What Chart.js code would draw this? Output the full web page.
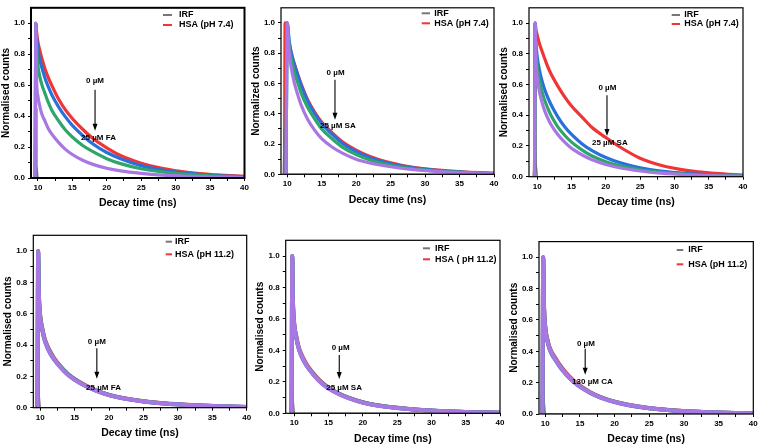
<!DOCTYPE html>
<html>
<head>
<meta charset="utf-8">
<script src="https://cdn.jsdelivr.net/npm/chart.js@4.4.0/dist/chart.umd.min.js"></script>
<style>
  html, body { margin: 0; padding: 0; background: #fff; }
  body { width: 760px; height: 447px; position: relative; overflow: hidden; }
  canvas { position: absolute; }
</style>
</head>
<body>
<canvas id="c1"></canvas>
<canvas id="c2"></canvas>
<canvas id="c3"></canvas>
<canvas id="c4"></canvas>
<canvas id="c5"></canvas>
<canvas id="c6"></canvas>
<script>
// decay time (ns) shared by the decay traces
const decayTime = [9.5, 9.6, 9.7, 9.8, 10, 10.3, 10.6, 11, 11.5, 12, 13, 14, 15, 16.5, 18, 20, 22, 25, 28, 32, 36, 40];

// instrument response
const irfTime = [9.45, 9.55, 9.62, 9.68, 9.75, 9.85, 10.0, 40];
const irfCounts = [0, 0.3, 0.8, 1.0, 0.45, 0.08, 0, 0];

// HSA pH 7.4 + FA
const p1Red    = [0, 0, 1.0, 0.95, 0.88, 0.82, 0.77, 0.71, 0.65, 0.60, 0.51, 0.44, 0.385, 0.315, 0.255, 0.195, 0.145, 0.095, 0.062, 0.035, 0.02, 0.01];
const p1Blue   = [0, 0, 1.0, 0.92, 0.83, 0.76, 0.71, 0.65, 0.59, 0.54, 0.46, 0.395, 0.34, 0.275, 0.22, 0.165, 0.125, 0.08, 0.052, 0.03, 0.016, 0.008];
const p1Green  = [0, 0, 1.0, 0.85, 0.73, 0.65, 0.60, 0.55, 0.49, 0.44, 0.37, 0.31, 0.265, 0.21, 0.17, 0.125, 0.093, 0.06, 0.04, 0.023, 0.012, 0.006];
const p1Purple = [0, 0, 1.0, 0.65, 0.53, 0.46, 0.41, 0.37, 0.32, 0.285, 0.23, 0.185, 0.152, 0.115, 0.088, 0.063, 0.046, 0.03, 0.019, 0.011, 0.006, 0.003];

// HSA pH 7.4 + SA
const p2Red    = [0, 0, 1.0, 0.95, 0.90, 0.86, 0.80, 0.735, 0.665, 0.60, 0.49, 0.41, 0.345, 0.275, 0.215, 0.16, 0.118, 0.076, 0.048, 0.027, 0.014, 0.007];
const p2Blue   = [0, 0, 0, 0, 1.0, 0.88, 0.80, 0.73, 0.66, 0.59, 0.48, 0.40, 0.335, 0.265, 0.205, 0.15, 0.11, 0.07, 0.045, 0.025, 0.013, 0.006];
const p2Green  = [0, 0, 0, 0, 1.0, 0.84, 0.76, 0.68, 0.61, 0.54, 0.44, 0.365, 0.30, 0.235, 0.18, 0.13, 0.095, 0.06, 0.038, 0.021, 0.011, 0.005];
const p2Purple = [0, 0, 0, 0, 1.0, 0.80, 0.70, 0.61, 0.53, 0.46, 0.36, 0.29, 0.235, 0.18, 0.14, 0.10, 0.075, 0.05, 0.032, 0.018, 0.009, 0.004];

// HSA pH 7.4 + SA (second set)
const p3Red    = [0, 0, 1.0, 0.96, 0.92, 0.87, 0.83, 0.78, 0.72, 0.67, 0.59, 0.52, 0.46, 0.39, 0.32, 0.255, 0.195, 0.12, 0.075, 0.04, 0.022, 0.01];
const p3Blue   = [0, 0, 1.0, 0.88, 0.78, 0.70, 0.64, 0.58, 0.52, 0.47, 0.39, 0.325, 0.275, 0.215, 0.17, 0.125, 0.092, 0.058, 0.036, 0.02, 0.011, 0.005];
const p3Green  = [0, 0, 1.0, 0.84, 0.72, 0.63, 0.57, 0.51, 0.45, 0.40, 0.325, 0.27, 0.225, 0.175, 0.135, 0.098, 0.072, 0.045, 0.028, 0.015, 0.008, 0.004];
const p3Purple = [0, 0, 1.0, 0.78, 0.65, 0.56, 0.50, 0.44, 0.385, 0.34, 0.275, 0.225, 0.185, 0.143, 0.11, 0.08, 0.058, 0.037, 0.023, 0.012, 0.006, 0.003];

// HSA pH 11.2 + FA
const p4Red    = [0, 0, 1.0, 0.74, 0.59, 0.51, 0.45, 0.40, 0.355, 0.318, 0.262, 0.216, 0.183, 0.144, 0.113, 0.082, 0.062, 0.041, 0.028, 0.017, 0.01, 0.005];
const p4Blue   = [0, 0, 1.0, 0.73, 0.575, 0.495, 0.437, 0.388, 0.343, 0.308, 0.256, 0.212, 0.18, 0.141, 0.111, 0.081, 0.06, 0.04, 0.027, 0.016, 0.009, 0.005];
const p4Green  = [0, 0, 1.0, 0.74, 0.585, 0.505, 0.445, 0.395, 0.35, 0.313, 0.258, 0.214, 0.181, 0.142, 0.112, 0.081, 0.061, 0.041, 0.027, 0.016, 0.009, 0.005];
const p4Purple = [0, 0, 1.0, 0.75, 0.58, 0.50, 0.44, 0.39, 0.345, 0.31, 0.255, 0.21, 0.178, 0.14, 0.11, 0.08, 0.06, 0.04, 0.027, 0.016, 0.009, 0.005];

// HSA pH 11.2 + SA
const p5Red    = [0, 0, 1.0, 0.73, 0.57, 0.49, 0.43, 0.38, 0.335, 0.298, 0.243, 0.197, 0.163, 0.126, 0.098, 0.07, 0.052, 0.035, 0.023, 0.013, 0.007, 0.004];
const p5Blue   = [0, 0, 1.0, 0.71, 0.555, 0.478, 0.418, 0.368, 0.325, 0.29, 0.236, 0.192, 0.16, 0.124, 0.096, 0.069, 0.051, 0.034, 0.022, 0.013, 0.007, 0.004];
const p5Green  = [0, 0, 1.0, 0.72, 0.56, 0.482, 0.422, 0.372, 0.328, 0.292, 0.238, 0.194, 0.161, 0.124, 0.097, 0.069, 0.051, 0.035, 0.022, 0.013, 0.007, 0.004];
const p5Purple = [0, 0, 1.0, 0.72, 0.56, 0.48, 0.42, 0.37, 0.325, 0.29, 0.235, 0.19, 0.158, 0.122, 0.095, 0.068, 0.05, 0.034, 0.022, 0.013, 0.007, 0.004];

// HSA pH 11.2 + CA
const p6Red    = [0, 0, 1.0, 0.73, 0.56, 0.48, 0.43, 0.39, 0.355, 0.32, 0.263, 0.217, 0.181, 0.139, 0.108, 0.079, 0.059, 0.038, 0.025, 0.014, 0.008, 0.004];
const p6Blue   = [0, 0, 1.0, 0.71, 0.545, 0.466, 0.416, 0.376, 0.342, 0.308, 0.253, 0.209, 0.174, 0.134, 0.104, 0.076, 0.056, 0.037, 0.024, 0.014, 0.008, 0.004];
const p6Green  = [0, 0, 1.0, 0.72, 0.552, 0.472, 0.422, 0.382, 0.347, 0.312, 0.257, 0.212, 0.177, 0.136, 0.106, 0.078, 0.058, 0.037, 0.024, 0.014, 0.008, 0.004];
const p6Purple = [0, 0, 1.0, 0.72, 0.55, 0.47, 0.42, 0.38, 0.345, 0.31, 0.255, 0.21, 0.175, 0.135, 0.105, 0.077, 0.057, 0.037, 0.024, 0.014, 0.008, 0.004];

// ticks
const xTickValues = [10, 12.5, 15, 17.5, 20, 22.5, 25, 27.5, 30, 32.5, 35, 37.5, 40];
const xTickLabels = ['10', '', '15', '', '20', '', '25', '', '30', '', '35', '', '40'];
const yTickValues = [0, 0.1, 0.2, 0.3, 0.4, 0.5, 0.6, 0.7, 0.8, 0.9, 1.0];
const yTickLabels = ['0.0', '', '0.2', '', '0.4', '', '0.6', '', '0.8', '', '1.0'];

// texts
const yTitles = ['Normalised counts', 'Normalized counts', 'Normalised counts', 'Normalised counts', 'Normalised counts', 'Normalised counts'];
const legendLabels = ['HSA (pH 7.4)', 'HSA (pH 7.4)', 'HSA (pH 7.4)', 'HSA (pH 11.2)', 'HSA ( pH 11.2)', 'HSA (pH 11.2)'];
const startLabels = ['0 \u00b5M', '0 \u00b5M', '0 \u00b5M', '0 \u00b5M', '0 \u00b5M', '0 \u00b5M'];
const endLabels = ['25 \u00b5M FA', '25 \u00b5M SA', '25 \u00b5M SA', '25 \u00b5M FA', '25 \u00b5M SA', '130 \u00b5M CA'];

const seriesSets = [
    [p1Red, p1Blue, p1Green, p1Purple],
    [p2Red, p2Blue, p2Green, p2Purple],
    [p3Red, p3Blue, p3Green, p3Purple],
    [p4Red, p4Blue, p4Green, p4Purple],
    [p5Red, p5Blue, p5Green, p5Purple],
    [p6Red, p6Blue, p6Green, p6Purple]
];

const COLORS = { red: '#ef3535', blue: '#2870dc', green: '#2fa56c', purple: '#a877e4', irf: '#6e6e6e' };
const FONT = '"Liberation Sans", Arial, sans-serif';
Chart.defaults.font.family = FONT;

// page geometry of each plot box, arrow and legend placement
const panels = [
    { L: 31, R: 244.5, T: 5.3, B: 178, xMin: 9.0, frame: 2, lw: 3.2,
      note: { sx: 18.3, sy: 0.625, ax: 18.3, from: 0.57, to: 0.306, ex: 18.8, ey: 0.26 },
      leg: { x0: 163, x1: 172, tx: 179, y0: 15, y1: 25 } },
    { L: 281, R: 494, T: 2.7, B: 174.3, xMin: 9.1, frame: 1.2, lw: 3.2,
      note: { sx: 17.02, sy: 0.669, ax: 16.93, from: 0.624, to: 0.361, ex: 17.35, ey: 0.323 },
      leg: { x0: 421.7, x1: 430, tx: 434.3, y0: 13.3, y1: 23.3 } },
    { L: 529, R: 743, T: 3.6, B: 176.7, xMin: 8.8, frame: 1.2, lw: 3.2,
      note: { sx: 20.23, sy: 0.576, ax: 20.17, from: 0.53, to: 0.265, ex: 20.58, ey: 0.223 },
      leg: { x0: 671.7, x1: 680, tx: 684.3, y0: 15, y1: 24 } },
    { L: 33.3, R: 246.7, T: 235.3, B: 407.7, xMin: 9.0, frame: 1.2, lw: 4,
      note: { sx: 18.23, sy: 0.423, ax: 18.23, from: 0.38, to: 0.184, ex: 19.2, ey: 0.128 },
      leg: { x0: 165.7, x1: 172, tx: 175, y0: 241.7, y1: 254.3 } },
    { L: 285.7, R: 500, T: 240.3, B: 413.3, xMin: 8.75, frame: 1.2, lw: 4,
      note: { sx: 16.76, sy: 0.417, ax: 16.56, from: 0.371, to: 0.218, ex: 17.26, ey: 0.163 },
      leg: { x0: 423, x1: 430, tx: 435, y0: 248.3, y1: 259.3 } },
    { L: 539, R: 753.3, T: 241.6, B: 414, xMin: 9.1, frame: 1.2, lw: 4,
      note: { sx: 15.86, sy: 0.45, ax: 15.76, from: 0.416, to: 0.25, ex: 16.8, ey: 0.206 },
      leg: { x0: 676.7, x1: 683.3, tx: 688.3, y0: 250, y1: 264.3 } }
];

function decorFor(p, i, cL, cT) {
    return {
        id: 'decor' + i,
        afterDatasetsDraw(chart) {
            const ctx = chart.ctx;
            const a = chart.chartArea;
            const xs = chart.scales.x, ys = chart.scales.y;
            ctx.save();
            ctx.strokeStyle = '#000';
            ctx.lineWidth = p.frame;
            ctx.strokeRect(a.left, a.top, a.right - a.left, a.bottom - a.top);

            // concentration arrow
            const n = p.note;
            const ax = xs.getPixelForValue(n.ax);
            const y0 = ys.getPixelForValue(n.from);
            const y1 = ys.getPixelForValue(n.to);
            ctx.lineWidth = 1.1;
            ctx.beginPath();
            ctx.moveTo(ax, y0);
            ctx.lineTo(ax, y1 - 5);
            ctx.stroke();
            ctx.fillStyle = '#000';
            ctx.beginPath();
            ctx.moveTo(ax - 2.5, y1 - 7);
            ctx.lineTo(ax + 2.5, y1 - 7);
            ctx.lineTo(ax, y1);
            ctx.closePath();
            ctx.fill();

            ctx.font = 'bold 8px ' + FONT;
            ctx.textAlign = 'center';
            ctx.textBaseline = 'middle';
            ctx.fillText(startLabels[i], xs.getPixelForValue(n.sx), ys.getPixelForValue(n.sy));
            ctx.fillText(endLabels[i], xs.getPixelForValue(n.ex), ys.getPixelForValue(n.ey));

            // legend
            const g = p.leg;
            ctx.lineWidth = 2;
            ctx.strokeStyle = '#777';
            ctx.beginPath();
            ctx.moveTo(g.x0 - cL, g.y0 - cT);
            ctx.lineTo(g.x1 - cL, g.y0 - cT);
            ctx.stroke();
            ctx.strokeStyle = COLORS.red;
            ctx.beginPath();
            ctx.moveTo(g.x0 - cL, g.y1 - cT);
            ctx.lineTo(g.x1 - cL, g.y1 - cT);
            ctx.stroke();
            ctx.font = 'bold 9px ' + FONT;
            ctx.textAlign = 'left';
            ctx.fillText('IRF', g.tx - cL, g.y0 - cT);
            ctx.fillText(legendLabels[i], g.tx - cL, g.y1 - cT);
            ctx.restore();
        }
    };
}

panels.forEach(function (p, i) {
    const canvas = document.getElementById('c' + (i + 1));
    const cL = Math.floor(p.L - 31);
    const cT = p.B < 300 ? 0 : 226;
    const cW = Math.ceil(p.R + 7 - cL);
    const cH = Math.ceil(p.B + 32 - cT);
    canvas.width = cW;
    canvas.height = cH;
    canvas.style.left = cL + 'px';
    canvas.style.top = cT + 'px';
    const yAxisW = p.L - cL;
    const xAxisH = cH - (p.B - cT);

    const sets = seriesSets[i];
    const traces = [
        { values: sets[3], color: COLORS.purple },
        { values: sets[2], color: COLORS.green },
        { values: sets[1], color: COLORS.blue },
        { values: sets[0], color: COLORS.red }
    ];
    const datasets = traces.map(function (t) {
        return {
            data: decayTime.map(function (x, k) { return { x: x, y: t.values[k] }; }),
            borderColor: t.color,
            borderWidth: p.lw,
            pointRadius: 0,
            cubicInterpolationMode: 'monotone'
        };
    });
    datasets.push({
        data: irfTime.map(function (x, k) { return { x: x, y: irfCounts[k] }; }),
        borderColor: COLORS.irf,
        borderWidth: 1.5,
        pointRadius: 0
    });

    const tickFont = { family: FONT, size: 8, weight: 'bold' };

    new Chart(canvas, {
        type: 'line',
        data: { datasets: datasets },
        options: {
            responsive: false,
            animation: false,
            events: [],
            layout: { autoPadding: false, padding: { top: p.T - cT, right: cW - (p.R - cL), left: 0, bottom: 0 } },
            plugins: { legend: { display: false }, tooltip: { enabled: false } },
            scales: {
                x: {
                    type: 'linear',
                    min: p.xMin,
                    max: 40,
                    afterFit: function (s) { s.height = xAxisH; },
                    afterBuildTicks: function (s) { s.ticks = xTickValues.map(function (v) { return { value: v }; }); },
                    ticks: {
                        autoSkip: false,
                        maxRotation: 0,
                        padding: 2,
                        color: '#000',
                        font: tickFont,
                        callback: function (v) { return xTickLabels[xTickValues.indexOf(v)] || ''; }
                    },
                    grid: { drawOnChartArea: false, drawTicks: true, tickLength: 3, tickColor: '#000' },
                    border: { display: false },
                    title: {
                        display: true,
                        text: 'Decay time (ns)',
                        color: '#000',
                        font: { family: FONT, size: 10.5, weight: 'bold' },
                        padding: { top: 0, bottom: 1 }
                    }
                },
                y: {
                    type: 'linear',
                    min: 0,
                    max: 1.1,
                    afterFit: function (s) { s.width = yAxisW; },
                    afterBuildTicks: function (s) { s.ticks = yTickValues.map(function (v) { return { value: v }; }); },
                    ticks: {
                        autoSkip: false,
                        padding: 3,
                        color: '#000',
                        font: tickFont,
                        callback: function (v) { return yTickLabels[yTickValues.indexOf(v)] || ''; }
                    },
                    grid: { drawOnChartArea: false, drawTicks: true, tickLength: 3, tickColor: '#000' },
                    border: { display: false },
                    title: {
                        display: true,
                        text: yTitles[i],
                        color: '#000',
                        font: { family: FONT, size: 10, weight: 'bold' },
                        padding: { top: 0, bottom: 0 }
                    }
                }
            }
        },
        plugins: [decorFor(p, i, cL, cT)]
    });
});
</script>
</body>
</html>
